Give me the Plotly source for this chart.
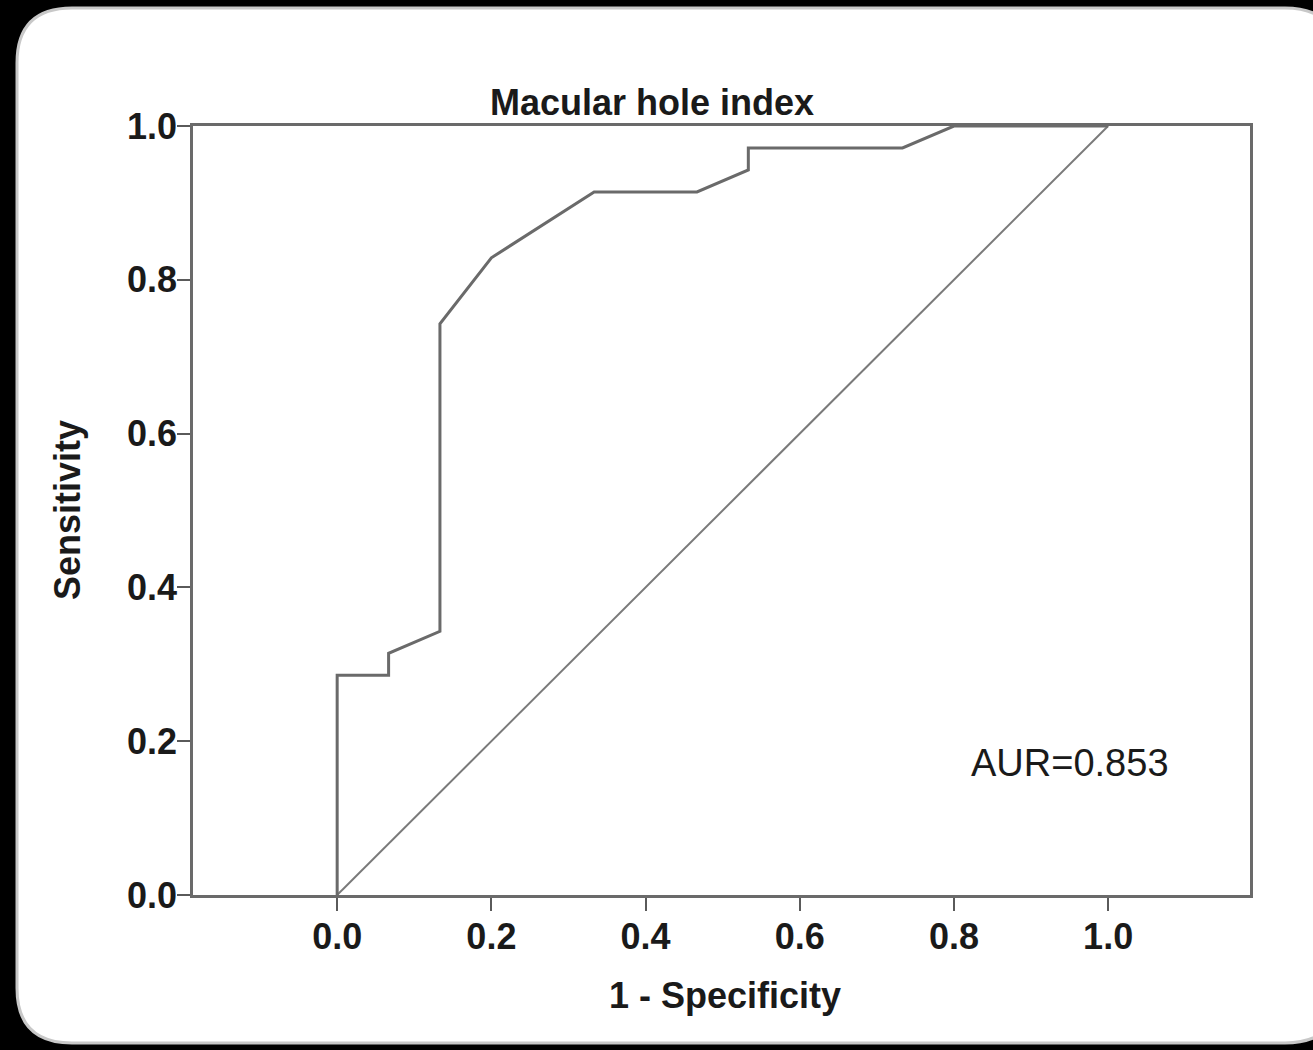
import plotly.graph_objects as go

# ROC curve data (1 - Specificity, Sensitivity)
fpr = [0.0, 0.0, 0.0667, 0.0667, 0.1333, 0.1333, 0.2, 0.3333, 0.4667, 0.5333, 0.5333, 0.7333, 0.8, 1.0]
tpr = [0.0, 0.2857, 0.2857, 0.3143, 0.3429, 0.7429, 0.8286, 0.9143, 0.9143, 0.9429, 0.9714, 0.9714, 1.0, 1.0]
ref_x = [0.0, 1.0]
ref_y = [0.0, 1.0]
tick_vals = [0.0, 0.2, 0.4, 0.6, 0.8, 1.0]
tick_text = ["0.0", "0.2", "0.4", "0.6", "0.8", "1.0"]
title_text = "Macular hole index"
x_title = "1 - Specificity"
y_title = "Sensitivity"
auc_text = "AUR=0.853"

W, H = 1313, 1050
L, R, T, B = 193, 63, 126, 155
PW, PH = W - L - R, H - T - B


def px(x):
    return (x - L) / PW


def py(y):
    return (H - B - y) / PH


fig = go.Figure()
fig.add_trace(go.Scatter(x=ref_x, y=ref_y, mode="lines",
                         line=dict(color="#7a7a7a", width=2), hoverinfo="skip"))
fig.add_trace(go.Scatter(x=fpr, y=tpr, mode="lines",
                         line=dict(color="#6a6a6a", width=3)))

# rounded white panel
x0, x1 = px(17), px(1340)
yt, yb = py(8), py(1043)
rx, ry = 55 / PW, 55 / PH
path = (f"M {x0+rx},{yt} L {x1-rx},{yt} Q {x1},{yt} {x1},{yt-ry} "
        f"L {x1},{yb+ry} Q {x1},{yb} {x1-rx},{yb} L {x0+rx},{yb} "
        f"Q {x0},{yb} {x0},{yb+ry} L {x0},{yt-ry} Q {x0},{yt} {x0+rx},{yt} Z")
fig.add_shape(type="path", path=path, xref="paper", yref="paper",
              fillcolor="white", line=dict(color="#c8c8c8", width=3), layer="below")

font_bold = dict(family="Liberation Sans, Arial, sans-serif", size=36, color="#1a1a1a", weight="bold")

axis_common = dict(
    showgrid=False, zeroline=False, showline=True, mirror=True,
    linecolor="#6a6a6a", linewidth=2.5,
    ticks="outside", ticklen=13, tickwidth=2, tickcolor="#5a5a5a",
    tickvals=tick_vals, ticktext=tick_text, tickfont=font_bold,
)

fig.update_layout(
    width=W, height=H,
    margin=dict(l=L, r=R, t=T, b=B, pad=0),
    paper_bgcolor="black",
    plot_bgcolor="#f7f7f7",
    showlegend=False,
    xaxis=dict(range=[-0.187, 1.184], ticklabelstandoff=-5, **axis_common),
    yaxis=dict(range=[0, 1], ticklabelstandoff=-7, **axis_common),
    annotations=[
        dict(text=title_text, x=px(652), y=py(102), xref="paper", yref="paper",
             showarrow=False, font=font_bold, xanchor="center", yanchor="middle"),
        dict(text=x_title, x=px(725), y=py(995), xref="paper", yref="paper",
             showarrow=False, font=font_bold, xanchor="center", yanchor="middle"),
        dict(text=y_title, x=px(68), y=py(510), xref="paper", yref="paper",
             showarrow=False, font=font_bold, textangle=-90,
             xanchor="center", yanchor="middle"),
        dict(text=auc_text, x=0.951, y=0.172, xref="x", yref="y",
             showarrow=False, xanchor="center", yanchor="middle",
             font=dict(family="Liberation Sans, Arial, sans-serif", size=38, color="#1a1a1a")),
    ],
)

fig.write_html("out.html", config={"displayModeBar": False},
               post_script="document.body.style.margin='0';document.body.style.overflow='hidden';")
